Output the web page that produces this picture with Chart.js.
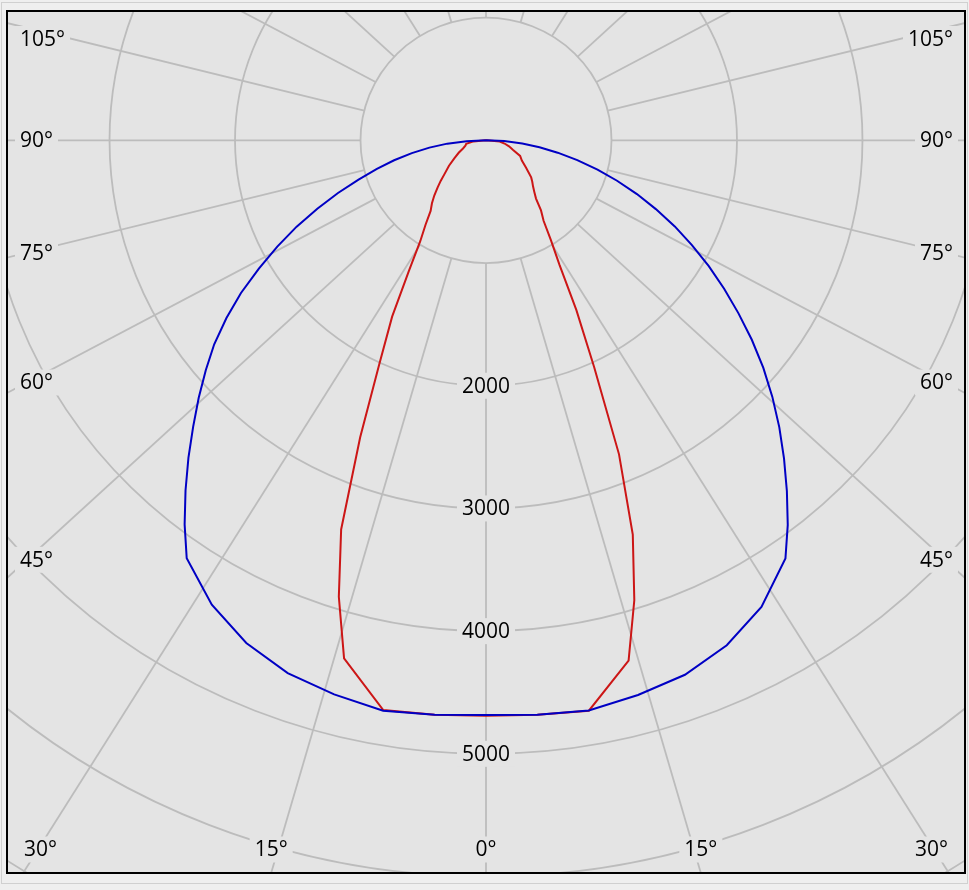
<!DOCTYPE html>
<html>
<head>
<meta charset="utf-8">
<title>Luminous intensity distribution</title>
<script src="https://cdn.jsdelivr.net/npm/chart.js@4.4.1/dist/chart.umd.min.js"></script>
<style>
  html, body { margin: 0; padding: 0; background: #efefef; }
  #wrap { width: 969px; height: 890px; }
</style>
</head>
<body>
<div id="wrap"><canvas id="polar" width="969" height="890"></canvas></div>
<script>
/* ============================================================
   Polar intensity diagram (cd), two C-planes
   ============================================================ */

// ============ DATA ============
// angles from nadir (deg); left half / right half of each plane, in cd
const GAMMA_BLUE = [0, 5, 10, 15, 20, 25, 30, 35, 37.5, 40, 42.5, 45, 47.5, 50, 52.5, 55, 57.5, 60, 62.5, 65, 67.5, 70, 72.5, 75, 77.5, 80, 82.5, 85, 87.5, 90];
const BLUE_LEFT = [4684, 4700, 4720, 4675, 4620, 4520, 4370, 4158, 3945, 3725, 3510, 3300, 3105, 2915, 2730, 2525, 2315, 2090, 1875, 1665, 1455, 1255, 1065, 900, 750, 600, 455, 310, 155, 0];
const BLUE_RIGHT = [4684, 4700, 4718, 4680, 4635, 4540, 4390, 4160, 3950, 3730, 3515, 3305, 3095, 2885, 2670, 2455, 2250, 2050, 1850, 1660, 1465, 1280, 1095, 920, 745, 580, 430, 290, 145, 0];

const GAMMA_RED = [0, 5, 10, 15, 17.5, 20, 22.5, 25, 27.5, 30, 32.5, 35, 37.5, 40, 42.5, 45, 47.5, 50, 55, 60, 65, 70, 75, 80, 85, 90];
const RED_LEFT = [4690, 4700, 4715, 4370, 3900, 3375, 2620, 2010, 1620, 1230, 975, 840, 725, 670, 610, 546, 490, 435, 360, 290, 240, 195, 170, 160, 100, 0];
const RED_RIGHT = [4690, 4700, 4720, 4390, 3930, 3420, 2770, 2040, 1560, 1170, 960, 800, 720, 620, 570, 530, 500, 470, 390, 330, 300, 230, 190, 150, 110, 0];

// grid
const RINGS = [1000, 2000, 3000, 4000, 5000, 6000, 7000, 8000];
const RING_LABELS = [2000, 3000, 4000, 5000];
const SPOKES = [0, 15, 30, 45, 60, 75, 90, 105, 120, 135, 150, 165, 180];

// ============ STYLE ============
const DEG = Math.PI / 180;
const PAGE_BG = '#efefef';
const PLOT_BG = '#e4e4e4';
const GRID = '#bcbcbc';
const BLUE = '#0000c4';
const RED = '#cc1616';
const INK = '#000000';
const FONT = '21px "Open Sans", "Noto Sans", sans-serif';
const SPOKE_SKEW = 1.07;   // the spokes in the original lean a little wider than the rings

// polar (gamma, I) -> plane coordinates, left half mirrored
function toPoints(angles, left, right) {
  const pts = [];
  for (let i = angles.length - 1; i >= 0; i--) {
    pts.push({ x: -left[i] * Math.sin(angles[i] * DEG), y: -left[i] * Math.cos(angles[i] * DEG) });
  }
  for (let i = 1; i < angles.length; i++) {
    pts.push({ x: right[i] * Math.sin(angles[i] * DEG), y: -right[i] * Math.cos(angles[i] * DEG) });
  }
  return pts;
}

function drawLabel(ctx, text, x, y, align) {
  const w = ctx.measureText(text).width;
  let left = x - w / 2;
  if (align === 'left') left = x;
  if (align === 'right') left = x - w;
  ctx.fillStyle = PLOT_BG;
  ctx.fillRect(left - 5, y - 13, w + 10, 26);
  ctx.fillStyle = INK;
  ctx.textAlign = 'left';
  ctx.textBaseline = 'middle';
  ctx.fillText(text, left, y + 1);
}

// ============ GRID PLUGIN ============
const polarGrid = {
  id: 'polarGrid',
  beforeDraw: function (chart) {
    const ctx = chart.ctx;
    ctx.save();
    ctx.fillStyle = PAGE_BG;
    ctx.fillRect(0, 0, chart.width, chart.height);
    ctx.strokeStyle = '#d0d0d0';
    ctx.lineWidth = 1;
    ctx.strokeRect(1.5, 2.5, chart.width - 3, chart.height - 9);
    ctx.restore();
  },
  beforeDatasetsDraw: function (chart) {
    const ctx = chart.ctx;
    const a = chart.chartArea;
    const xs = chart.scales.x;
    const ys = chart.scales.y;
    const cx = xs.getPixelForValue(0);
    const cy = ys.getPixelForValue(0);
    const kx = (xs.getPixelForValue(1000) - cx) / 1000;
    const ky = (cy - ys.getPixelForValue(1000)) / 1000;

    ctx.save();
    ctx.fillStyle = PLOT_BG;
    ctx.fillRect(a.left, a.top, a.right - a.left, a.bottom - a.top);
    ctx.beginPath();
    ctx.rect(a.left, a.top, a.right - a.left, a.bottom - a.top);
    ctx.clip();

    ctx.strokeStyle = GRID;
    ctx.lineWidth = 1.8;
    RINGS.forEach(function (r) {
      ctx.beginPath();
      ctx.ellipse(cx, cy, r * kx, r * ky, 0, 0, Math.PI * 2);
      ctx.stroke();
    });

    const labels = [];
    SPOKES.forEach(function (t) {
      const sides = (t === 0 || t === 180) ? [1] : [-1, 1];
      sides.forEach(function (side) {
        const dx = side * SPOKE_SKEW * Math.sin(t * DEG);
        const dy = Math.cos(t * DEG);
        const n = Math.hypot(dx, dy);
        const ux = dx / n * kx;
        const uy = dy / n * ky;
        ctx.beginPath();
        ctx.moveTo(cx + ux * RINGS[0], cy + uy * RINGS[0]);
        ctx.lineTo(cx + ux * 20000, cy + uy * 20000);
        ctx.stroke();

        // where the spoke leaves the frame
        let best = Infinity, edge = '';
        if (ux < -1e-9) { const l = (a.left - cx) / ux; if (l < best) { best = l; edge = 'left'; } }
        if (ux > 1e-9) { const l = (a.right - cx) / ux; if (l < best) { best = l; edge = 'right'; } }
        if (uy > 1e-9) { const l = (a.bottom - cy) / uy; if (l < best) { best = l; edge = 'bottom'; } }
        if (uy < -1e-9) { const l = (a.top - cy) / uy; if (l < best) { best = l; edge = 'top'; } }
        if (edge === 'top' || edge === '') return;
        labels.push({ text: t + '°', edge: edge, ux: ux, uy: uy, l: best });
      });
    });

    ctx.font = FONT;
    labels.forEach(function (lb) {
      if (lb.edge === 'bottom') {
        const w = ctx.measureText(lb.text).width;
        let x = cx + lb.ux * lb.l;
        x = Math.max(a.left + 17 + w / 2, Math.min(a.right - 17 - w / 2, x));
        drawLabel(ctx, lb.text, x, a.bottom - 23.5, 'center');
      } else {
        const ax = lb.edge === 'left' ? a.left + 20 : a.right - 20;
        let y = cy + lb.uy * ((ax - cx) / lb.ux);
        y = Math.max(a.top + 28, y);
        if (lb.edge === 'left') drawLabel(ctx, lb.text, a.left + 13, y, 'left');
        else drawLabel(ctx, lb.text, a.right - 12, y, 'right');
      }
    });

    RING_LABELS.forEach(function (r) {
      drawLabel(ctx, String(r), cx, cy + r * ky, 'center');
    });
    ctx.restore();
  },
  afterDatasetsDraw: function (chart) {
    const ctx = chart.ctx;
    const a = chart.chartArea;
    ctx.save();
    ctx.strokeStyle = '#000000';
    ctx.lineWidth = 2;
    ctx.strokeRect(a.left, a.top, a.right - a.left, a.bottom - a.top);
    ctx.restore();
  }
};

// ============ CHART ============
new Chart(document.getElementById('polar'), {
  type: 'scatter',
  data: {
    datasets: [
      {
        label: 'C0-C180',
        data: toPoints(GAMMA_BLUE, BLUE_LEFT, BLUE_RIGHT),
        showLine: true,
        borderColor: BLUE,
        borderWidth: 2,
        pointRadius: 0,
        tension: 0,
        fill: false
      },
      {
        label: 'C90-C270',
        data: toPoints(GAMMA_RED, RED_LEFT, RED_RIGHT),
        showLine: true,
        borderColor: RED,
        borderWidth: 2,
        pointRadius: 0,
        tension: 0,
        fill: false
      }
    ]
  },
  options: {
    responsive: false,
    animation: false,
    events: [],
    layout: { padding: { left: 7, top: 11, right: 4, bottom: 17 } },
    plugins: {
      legend: { display: false },
      tooltip: { enabled: false }
    },
    scales: {
      x: { type: 'linear', min: -3817, max: 3817, display: false },
      y: { type: 'linear', min: -5971, max: 1054, display: false }
    }
  },
  plugins: [polarGrid]
});
</script>
</body>
</html>
